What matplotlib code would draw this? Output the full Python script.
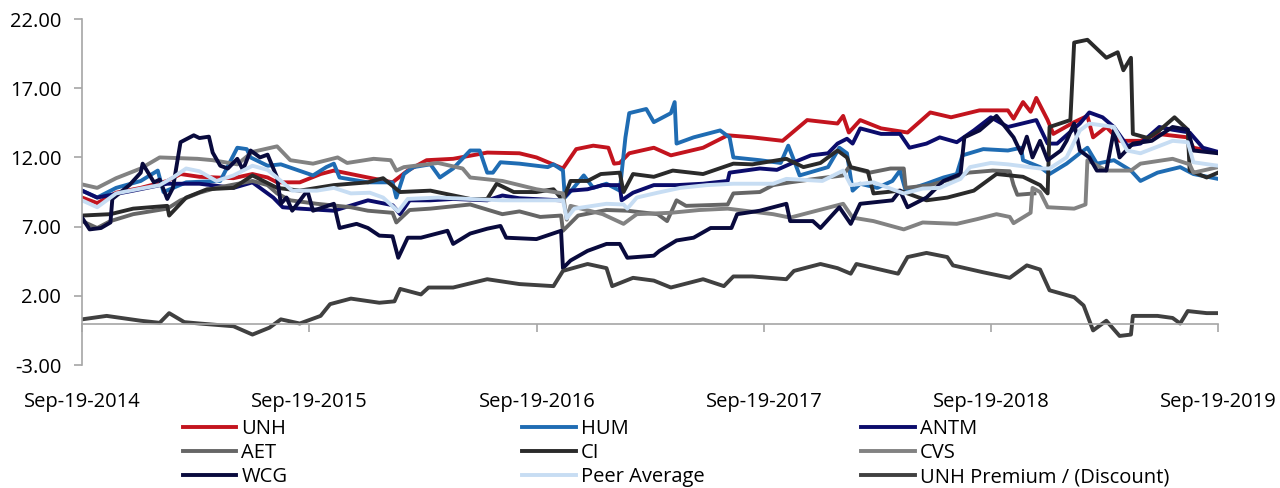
import pandas as pd
import numpy as np
import matplotlib
matplotlib.use("Agg")
import matplotlib.pyplot as plt
import matplotlib.dates as mdates

# months since Sep-19-2014 and multiple values
unh_m = [0, 0.8, 1.8, 3.1, 4.5, 5.2, 6.2, 8.0, 9.0, 9.8, 10.3, 11.5, 12.6, 13.3, 15.1, 16.4, 17.2, 18.2, 19.6,
         21.4, 23.1, 24.0, 25.4, 26.1, 27.0, 27.8, 28.1, 28.4, 28.9, 30.2, 31.1, 32.8, 34.1, 35.4, 37.0, 38.3,
         39.9, 40.2, 40.5, 41.1, 42.2, 43.6, 44.8, 45.9, 47.4, 48.9, 49.2, 49.7, 50.1, 50.4, 51.0, 51.3, 52.4,
         53.1, 53.4, 54.1, 54.8, 55.9, 56.8, 58.4, 58.7, 60]
unh_v = [9.1, 8.7, 9.45, 9.8, 10.3, 10.8, 10.6, 10.5, 10.8, 10.55, 10.2, 10.2, 10.8, 11.05, 10.55, 10.2, 11.05,
         11.8, 11.9, 12.35, 12.3, 12.0, 11.2, 12.6, 12.85, 12.7, 11.55, 11.6, 12.3, 12.7, 12.15, 12.7, 13.6, 13.45,
         13.2, 14.7, 14.45, 15.0, 13.8, 14.7, 14.1, 13.8, 15.25, 14.9, 15.4, 15.4, 14.8, 16.0, 15.3, 16.3, 14.7,
         13.7, 14.55, 15.0, 13.45, 14.2, 13.2, 13.2, 13.7, 13.45, 12.7, 12.35]

hum_m = [0, 0.8, 1.8, 3.1, 4.0, 4.3, 5.5, 7.3, 8.2, 8.7, 8.9, 9.8, 10.5, 12.2, 12.9, 13.3, 13.6, 15.1, 16.4,
         16.6, 17.0, 17.5, 18.4, 18.9, 19.6, 20.5, 21.0, 21.4, 21.7, 22.1, 23.1, 24.6, 24.9, 25.4, 25.5, 25.9,
         26.5, 27.0, 27.7, 28.4, 28.7, 28.9, 29.8, 30.2, 31.1, 31.3, 31.4, 32.3, 33.7, 34.2, 34.4, 35.8, 36.9,
         37.3, 37.6, 37.9, 39.4, 40.0, 40.4, 40.7, 41.1, 42.0, 42.8, 43.2, 43.5, 44.6, 45.5, 46.2, 46.5, 47.6,
         48.9, 49.6, 49.7, 50.6, 51.1, 52.0, 52.7, 53.1, 53.6, 54.5, 55.4, 55.9, 56.8, 58.0, 58.7, 60]
hum_v = [9.6, 9.1, 9.8, 10.3, 11.05, 9.5, 10.2, 10.3, 12.7, 12.6, 12.0, 11.4, 11.5, 10.7, 11.3, 11.55, 10.55,
         10.2, 10.2, 9.1, 10.8, 11.3, 11.5, 10.55, 11.2, 12.5, 12.5, 10.9, 10.9, 11.65, 11.55, 11.3, 11.5, 11.05,
         9.1, 9.7, 10.7, 9.8, 10.1, 9.6, 13.45, 15.2, 15.5, 14.55, 15.2, 16.0, 13.0, 13.45, 13.95, 13.45, 12.0,
         11.8, 11.6, 12.85, 11.8, 10.7, 11.3, 12.7, 12.3, 9.6, 10.1, 9.8, 10.3, 11.05, 9.6, 10.1, 10.55, 10.8,
         12.15, 12.6, 12.5, 12.7, 11.8, 11.3, 10.8, 11.55, 12.3, 12.7, 11.55, 11.8, 11.05, 10.3, 10.9, 11.3,
         10.8, 10.45]

antm_m = [0, 0.8, 2.7, 4.5, 6.2, 8.0, 9.0, 10.1, 10.6, 11.5, 13.3, 15.1, 16.4, 16.8, 17.3, 18.4, 19.6, 21.4,
          22.2, 23.1, 25.3, 25.8, 26.7, 27.5, 28.4, 28.5, 29.1, 30.2, 31.4, 32.8, 34.1, 34.2, 35.8, 36.7, 37.6,
          38.5, 39.4, 39.9, 40.4, 40.7, 41.1, 42.2, 43.2, 43.7, 44.6, 45.3, 46.2, 47.1, 48.0, 48.9, 50.4, 51.0,
          51.5, 52.7, 53.2, 53.9, 54.5, 55.2, 55.9, 56.9, 57.6, 58.5, 59.2, 60]
antm_v = [9.6, 9.1, 9.6, 10.1, 10.1, 9.8, 10.2, 9.1, 8.4, 8.3, 8.15, 8.9, 8.55, 7.9, 8.9, 8.9, 9.0, 8.9, 9.25,
          9.05, 8.9, 9.6, 9.7, 10.0, 10.0, 8.9, 9.45, 10.0, 10.0, 10.1, 10.3, 10.9, 11.2, 11.1, 11.65, 12.15,
          12.3, 13.0, 13.35, 13.0, 14.1, 13.7, 13.7, 12.7, 13.0, 13.45, 13.1, 13.95, 14.9, 14.2, 14.7, 13.0, 13.0,
          14.45, 15.25, 14.9, 14.2, 12.85, 13.0, 14.2, 14.0, 13.8, 12.7, 12.4]

aet_m = [0, 0.8, 1.5, 2.7, 4.5, 5.2, 6.2, 7.1, 9.0, 9.8, 10.3, 11.0, 12.4, 14.2, 15.1, 16.4, 16.6, 17.3, 18.4,
         20.5, 22.2, 23.1, 24.2, 25.3, 25.4, 26.2, 27.7, 28.8, 30.4, 30.9, 31.4, 31.9, 34.1, 34.4, 35.8, 36.5,
         37.4, 39.0, 40.2, 40.5, 41.6, 42.7, 43.4, 43.5, 44.8, 46.2, 46.8, 48.1, 49.0, 49.2, 49.4, 50.3]
aet_v = [7.4, 6.9, 7.4, 7.9, 8.3, 8.9, 9.45, 9.8, 10.3, 10.0, 9.4, 8.9, 8.65, 8.4, 8.15, 8.0, 7.3, 8.2, 8.3,
         8.6, 7.9, 8.1, 7.7, 7.8, 6.7, 7.8, 8.2, 8.15, 7.9, 7.4, 8.9, 8.5, 8.6, 9.4, 9.5, 10.0, 10.2, 10.5, 10.7,
         11.3, 10.9, 11.2, 11.2, 9.8, 10.0, 10.55, 10.9, 11.05, 11.0, 10.0, 9.3, 9.4]

ci_m = [0, 1.5, 2.7, 4.5, 4.6, 5.5, 6.6, 8.0, 9.0, 10.3, 11.5, 13.3, 15.1, 15.9, 16.8, 18.4, 20.5, 21.4, 21.9,
        22.8, 24.0, 24.9, 25.4, 25.8, 26.7, 27.4, 28.4, 28.6, 29.1, 30.2, 31.2, 32.8, 34.4, 35.4, 37.2, 38.1,
        39.0, 39.9, 40.4, 40.6, 41.5, 41.8, 43.2, 44.6, 45.7, 47.1, 48.3, 49.7, 50.6, 51.0, 51.1, 52.2, 52.4,
        53.1, 54.1, 54.7, 55.0, 55.4, 55.5, 56.3, 56.9, 57.7, 58.4, 58.5, 59.4, 60]
ci_v = [7.8, 7.9, 8.3, 8.5, 7.8, 9.1, 9.7, 9.8, 10.7, 9.8, 9.6, 10.0, 10.2, 10.5, 9.5, 9.6, 9.0, 9.0, 10.1, 9.5,
        9.5, 9.7, 8.9, 10.3, 10.3, 10.8, 10.9, 9.5, 10.8, 10.6, 11.05, 10.8, 11.55, 11.5, 11.9, 11.3, 11.6, 12.5,
        12.0, 11.3, 11.0, 9.4, 9.6, 8.9, 9.1, 9.6, 10.8, 10.6, 10.0, 9.4, 14.2, 14.7, 20.3, 20.5, 19.2, 19.6,
        18.3, 19.2, 13.7, 13.4, 13.95, 14.9, 14.0, 11.05, 10.55, 10.9]

cvs_m = [0, 0.8, 1.8, 3.1, 4.1, 6.1, 6.9, 8.2, 9.0, 10.3, 11.0, 12.2, 13.5, 14.0, 15.4, 16.3, 16.6, 17.0, 18.8,
         20.1, 20.5, 22.2, 24.0, 25.4, 25.6, 25.8, 27.5, 28.6, 29.3, 31.1, 32.6, 34.1, 36.5, 37.4, 39.5, 40.2,
         40.7, 41.8, 43.4, 44.4, 46.2, 47.3, 48.3, 49.0, 49.2, 50.1, 50.2, 50.6, 51.0, 52.4, 53.0, 53.1, 54.1,
         55.4, 55.9, 57.6, 58.5, 58.7, 60]
cvs_v = [10.05, 9.8, 10.5, 11.2, 12.0, 11.9, 11.8, 11.5, 12.4, 12.8, 11.8, 11.55, 12.0, 11.6, 11.9, 11.8, 11.05,
         11.3, 11.6, 11.2, 10.55, 10.3, 9.7, 9.4, 7.5, 8.5, 7.9, 7.2, 7.9, 8.0, 8.2, 8.3, 7.9, 7.65, 8.4, 8.65,
         7.65, 7.4, 6.8, 7.3, 7.2, 7.55, 7.9, 7.7, 7.25, 8.0, 9.8, 9.5, 8.4, 8.3, 8.6, 11.8, 11.05, 11.05, 11.55,
         11.9, 11.5, 10.9, 11.3]

wcg_m = [0, 0.4, 1.0, 1.5, 1.6, 2.5, 3.1, 3.2, 3.8, 4.1, 4.5, 4.8, 5.2, 5.9, 6.2, 6.7, 6.9, 7.3, 7.7, 8.2, 8.5,
         8.9, 9.4, 9.8, 10.3, 10.5, 10.8, 11.1, 11.9, 12.2, 13.3, 13.6, 14.5, 15.1, 15.7, 16.4, 16.7, 17.2, 17.9,
         19.3, 19.6, 20.5, 21.4, 22.1, 22.4, 24.0, 25.3, 25.4, 25.8, 26.7, 27.7, 28.4, 28.8, 30.2, 30.5, 31.4,
         32.3, 33.2, 34.3, 34.6, 35.8, 37.2, 37.4, 38.6, 39.0, 40.0, 40.6, 41.1, 42.8, 43.2, 43.6, 44.6, 45.5,
         46.4, 46.6, 47.4, 48.3, 49.2, 49.6, 49.9, 50.2, 50.6, 51.0, 51.7, 52.0, 52.4, 52.7, 53.2, 53.6, 54.1,
         54.5, 54.8, 55.5, 56.5, 57.6, 58.4, 58.7, 60]
wcg_v = [7.65, 6.8, 6.9, 7.3, 9.0, 10.0, 10.9, 11.55, 10.2, 10.4, 9.0, 9.8, 13.1, 13.6, 13.4, 13.5, 12.35, 11.4,
         11.2, 11.9, 11.1, 12.5, 12.0, 12.2, 10.55, 8.65, 9.1, 8.15, 9.6, 8.15, 8.65, 6.9, 7.2, 6.9, 6.35, 6.3,
         4.75, 6.2, 6.2, 6.7, 5.75, 6.5, 6.85, 7.05, 6.2, 6.1, 6.7, 4.0, 4.55, 5.25, 5.75, 5.75, 4.75, 4.9, 5.25,
         6.0, 6.2, 6.9, 6.9, 7.9, 8.15, 8.65, 7.4, 7.4, 6.9, 8.4, 7.2, 8.65, 8.9, 9.6, 8.4, 9.1, 10.3, 10.8,
         13.45, 13.95, 15.0, 13.45, 12.3, 13.5, 12.0, 13.2, 11.8, 12.5, 13.2, 14.45, 12.5, 12.0, 11.05, 11.05,
         13.95, 12.0, 13.0, 13.2, 14.2, 14.0, 12.5, 12.3]

peer_m = [0, 0.8, 1.8, 3.1, 4.1, 4.8, 5.5, 6.2, 7.1, 8.0, 9.0, 9.8, 10.6, 11.1, 12.4, 13.3, 14.2, 15.2, 15.9,
          16.7, 17.2, 18.8, 20.5, 22.2, 24.0, 25.4, 25.6, 26.0, 27.7, 28.6, 28.8, 29.3, 30.4, 31.6, 33.0, 34.4,
          36.5, 37.2, 39.1, 40.2, 40.6, 41.8, 43.4, 44.4, 45.3, 46.4, 46.9, 48.0, 48.9, 50.6, 51.1, 52.0, 52.7,
          53.2, 54.5, 55.2, 55.9, 57.6, 58.4, 58.7, 60]
peer_v = [8.9, 8.4, 9.4, 9.75, 10.0, 10.55, 11.2, 11.0, 10.3, 10.7, 11.4, 11.1, 10.2, 9.6, 9.6, 9.8, 9.4, 9.45,
          9.1, 8.1, 9.0, 9.1, 9.0, 8.9, 8.9, 8.9, 7.6, 8.3, 8.65, 8.6, 8.3, 9.1, 9.45, 9.8, 10.0, 10.1, 10.1,
          10.45, 10.3, 11.05, 10.0, 10.2, 9.4, 9.75, 9.8, 10.45, 11.3, 11.6, 11.5, 11.2, 11.2, 12.0, 13.95, 14.45,
          14.2, 12.5, 12.3, 13.2, 13.1, 11.65, 11.4]

prem_m = [0, 1.3, 3.1, 4.1, 4.6, 5.4, 6.2, 8.0, 9.0, 9.9, 10.5, 11.5, 12.6, 13.1, 14.2, 15.7, 16.5, 16.8, 17.9,
          18.3, 19.6, 21.4, 23.1, 24.9, 25.4, 26.7, 27.7, 28.0, 29.1, 30.2, 31.1, 32.8, 33.9, 34.4, 35.4, 37.2,
          37.6, 39.0, 39.9, 40.6, 40.9, 43.1, 43.6, 44.6, 45.7, 46.0, 47.6, 49.0, 49.9, 50.6, 51.1, 52.4, 52.9,
          53.4, 54.1, 54.8, 55.4, 55.5, 56.8, 57.6, 58.0, 58.4, 59.4, 60]
prem_v = [0.3, 0.55, 0.2, 0.05, 0.75, 0.1, 0.0, -0.2, -0.8, -0.3, 0.3, 0.0, 0.55, 1.4, 1.8, 1.5, 1.6, 2.5, 2.1,
          2.6, 2.6, 3.2, 2.85, 2.7, 3.8, 4.3, 4.0, 2.7, 3.3, 3.1, 2.6, 3.2, 2.7, 3.4, 3.4, 3.2, 3.8, 4.3, 4.0,
          3.6, 4.3, 3.6, 4.8, 5.1, 4.8, 4.2, 3.7, 3.3, 4.2, 3.9, 2.4, 1.9, 1.3, -0.5, 0.2, -0.9, -0.8, 0.55,
          0.55, 0.4, 0.0, 0.9, 0.75, 0.75]

series = [
    ("UNH", unh_m, unh_v, "#C3141E"),
    ("HUM", hum_m, hum_v, "#1F6CB3"),
    ("ANTM", antm_m, antm_v, "#0B0C6B"),
    ("AET", aet_m, aet_v, "#666666"),
    ("CI", ci_m, ci_v, "#2A2A2A"),
    ("CVS", cvs_m, cvs_v, "#828282"),
    ("WCG", wcg_m, wcg_v, "#090A3D"),
    ("Peer Average", peer_m, peer_v, "#C7DDF3"),
    ("UNH Premium / (Discount)", prem_m, prem_v, "#404040"),
]

start = pd.Timestamp("2014-09-19")
end = pd.Timestamp("2019-09-19")
day_per_month = (end - start).days / 60.0

def to_dates(months):
    return [start + pd.Timedelta(days=m * day_per_month) for m in months]

plt.rcParams['font.family'] = ['Open Sans', 'DejaVu Sans']
fs = 14.5
fig = plt.figure(figsize=(12.8, 4.88), dpi=100)
ax = fig.add_axes([0.0641, 0.2520, 0.8875, 0.7090])

handles = {}
for name, m, v, col in series:
    ln, = ax.plot(to_dates(m), v, color=col, lw=2.8, solid_joinstyle='round')
    handles[name] = ln

ax.set_ylim(-3, 22)
ax.set_yticks([-3, 2, 7, 12, 17, 22])
ax.yaxis.set_major_formatter(matplotlib.ticker.FormatStrFormatter('%.2f'))
ax.set_xlim(start, end)
ax.set_xticks([pd.Timestamp(f"{y}-09-19") for y in range(2014, 2020)])
ax.xaxis.set_major_formatter(mdates.DateFormatter('%b-%d-%Y'))

for s in ['top', 'right']:
    ax.spines[s].set_visible(False)
ax.spines['bottom'].set_position(('data', 0))
for s in ['left', 'bottom']:
    ax.spines[s].set_color('#A6A6A6')
    ax.spines[s].set_linewidth(1.2)
ax.tick_params(axis='y', direction='out', length=6, width=1.2, color='#A6A6A6', pad=9, labelsize=fs)
ax.tick_params(axis='x', direction='out', length=6, width=1.2, color='#A6A6A6', pad=43, labelsize=fs)

# legend laid out as three columns, row by row
cols = [["UNH", "AET", "WCG"], ["HUM", "CI", "Peer Average"], ["ANTM", "CVS", "UNH Premium / (Discount)"]]
col_x = [0.143, 0.408, 0.673]
for names, x in zip(cols, col_x):
    fig.legend([handles[n] for n in names], names, loc='upper left', bbox_to_anchor=(x, 0.141),
               frameon=False, ncol=1, fontsize=fs, handlelength=2.65, handletextpad=0.25,
               labelspacing=0.2, borderpad=0, borderaxespad=0)

fig.savefig("out.png", dpi=100)
